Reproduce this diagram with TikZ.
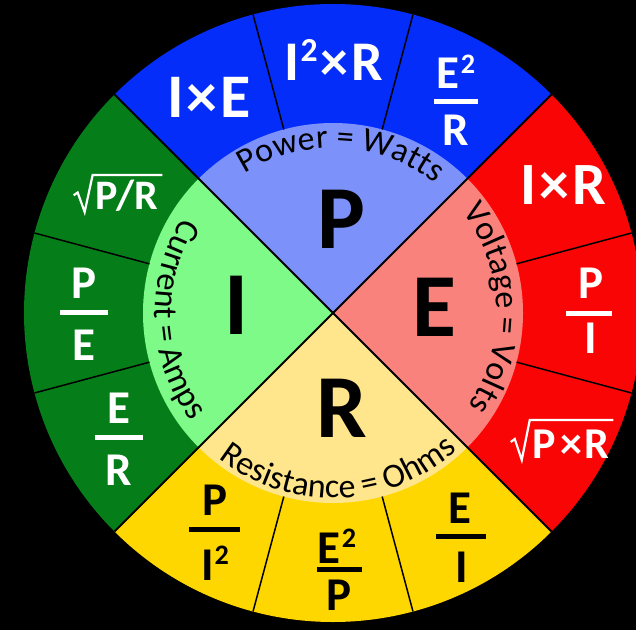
\documentclass[tikz,border=0pt]{standalone}
\usepackage{fontspec}
\setmainfont{Carlito}
\usepackage{graphicx}
\usetikzlibrary{decorations.text,calc}
\definecolor{blueO}{RGB}{5,45,250}
\definecolor{blueI}{RGB}{125,145,250}
\definecolor{redO}{RGB}{250,5,5}
\definecolor{redI}{RGB}{250,130,125}
\definecolor{greenO}{RGB}{5,125,25}
\definecolor{greenI}{RGB}{125,250,135}
\definecolor{yelO}{RGB}{255,215,0}
\definecolor{yelI}{RGB}{255,230,140}
\newcommand\sq{\kern1pt\raisebox{0.34em}{\scalebox{0.6}{2}}}
\newcommand\tm{\kern3pt×\kern3pt}
\newcommand\fs[1]{\fontsize{#1}{#1}\selectfont}
\newcommand\rad[3]{%
  \draw[#2, line width=2.2pt, line join=miter]
    ($(#1.base west)+(-22,0.42*#3)$) -- ($(#1.base west)+(-18,0.5*#3)$)
    -- ($(#1.base west)+(-11,-2)$) -- ($(#1.base west)+(-3,#3)$)
    -- ($(#1.base east)+(4,#3)$);}
\begin{document}
\begin{tikzpicture}[x=1pt,y=1pt,
  big/.style={font=\fs{90}\bfseries, inner sep=0pt},
  fw/.style={text=white, inner sep=0pt, anchor=base},
  fb/.style={text=black, inner sep=0pt, anchor=base},
  barw/.style={white, line width=5pt},
  barb/.style={black, line width=5pt},
  sep/.style={black, line width=1.5pt},
  diag/.style={black, line width=2pt},
  arclab/.style={decorate, decoration={text along path, text align=center,
      text format delimiters={|}{|}}}
]
\useasboundingbox (0,0) rectangle (636,630);
\fill[black] (0,0) rectangle (636,630);
\clip (0,0) rectangle (636,630);
\coordinate (C) at (333,317);
% outer sectors
\fill[blueO]  (C) -- ([shift={(45:309)}]C)  arc (45:135:309)  -- cycle;
\fill[greenO] (C) -- ([shift={(135:309)}]C) arc (135:225:309) -- cycle;
\fill[yelO]   (C) -- ([shift={(225:309)}]C) arc (225:315:309) -- cycle;
\fill[redO]   (C) -- ([shift={(315:309)}]C) arc (315:405:309) -- cycle;
% inner sectors
\fill[blueI]  (C) -- ([shift={(45:190)}]C)  arc (45:135:190)  -- cycle;
\fill[greenI] (C) -- ([shift={(135:190)}]C) arc (135:225:190) -- cycle;
\fill[yelI]   (C) -- ([shift={(225:190)}]C) arc (225:315:190) -- cycle;
\fill[redI]   (C) -- ([shift={(315:190)}]C) arc (315:405:190) -- cycle;
% lines
\draw[diag] ([shift={(45:309)}]C) -- ([shift={(225:309)}]C);
\draw[diag] ([shift={(135:309)}]C) -- ([shift={(315:309)}]C);
\foreach \a in {15,75,105,165,195,255,285,345}
  \draw[sep] ([shift={(\a:190)}]C) -- ([shift={(\a:309)}]C);
% curved labels
\path[arclab, decoration={text={|\fs{34}|Power = Watts}}]
  ([shift={(140:165)}]C) arc (140:34:165);
\path[arclab, decoration={text={|\fs{34}|Voltage = Volts}}]
  ([shift={(62:164)}]C) arc (62:-58:164);
\path[arclab, decoration={text={|\fs{34}|Current = Amps}}]
  ([shift={(122.5:178)}]C) arc (122.5:242.5:178);
\path[arclab, decoration={text={|\fs{34}|Resistance = Ohms}}]
  ([shift={(212:185)}]C) arc (212:332:185);
% big letters
\node[big] (P) at (341,411) {P};
\node[big] (I) at (236,325) {I};
\node[big] (E) at (434,323) {E};
\node[big] (R) at (342,222) {R};
% blue
\node[fw, font=\fs{62}\bfseries] (IE) at (209,512) {I\tm E};
\node[fw, font=\fs{56}\bfseries] (I2R) at (334,549) {I\sq\tm R};
\node[fw, font=\fs{47}\bfseries] (ERn) at (456,541) {E\sq};
\draw[barw] (434,528) -- (478,528);
\node[fw, font=\fs{47}\bfseries] (ERd) at (456,484) {R};
% red
\node[fw, font=\fs{60}\bfseries] (IR) at (563,425) {I\tm R};
\node[fw, font=\fs{47}\bfseries] (PIn) at (591,332) {P};
\draw[barw] (566,317) -- (612,317);
\node[fw, font=\fs{47}\bfseries] (PId) at (591,277) {I};
\node[fw, font=\fs{44}\bfseries] (sPR) at (571,172) {P\kern1pt\tm\kern-1pt R};
\rad{sPR}{white}{38}
% yellow
\node[fb, font=\fs{47}\bfseries] (PI2n) at (215,115) {P};
\draw[barb] (189,101) -- (240,101);
\node[fb, font=\fs{47}\bfseries] (PI2d) at (215,50) {I\sq};
\node[fb, font=\fs{47}\bfseries] (E2Pn) at (337,67) {E\sq};
\draw[barb] (317,61) -- (362,61);
\node[fb, font=\fs{47}\bfseries] (E2Pd) at (339,20) {P};
\node[fb, font=\fs{47}\bfseries] (EIn) at (460,107) {E};
\draw[barb] (436,94) -- (486,94);
\node[fb, font=\fs{47}\bfseries] (EId) at (462,48) {I};
% green
\node[fw, font=\fs{42}\bfseries] (sPRg) at (127,420) {P/R};
\rad{sPRg}{white}{35}
\node[fw, font=\fs{47}\bfseries] (PEn) at (84,332) {P};
\draw[barw] (60,318) -- (108,318);
\node[fw, font=\fs{47}\bfseries] (PEd) at (84,270) {E};
\node[fw, font=\fs{47}\bfseries] (ERgn) at (119,207) {E};
\draw[barw] (95,193) -- (143,193);
\node[fw, font=\fs{47}\bfseries] (ERgd) at (119,145) {R};
\end{tikzpicture}
\end{document}
